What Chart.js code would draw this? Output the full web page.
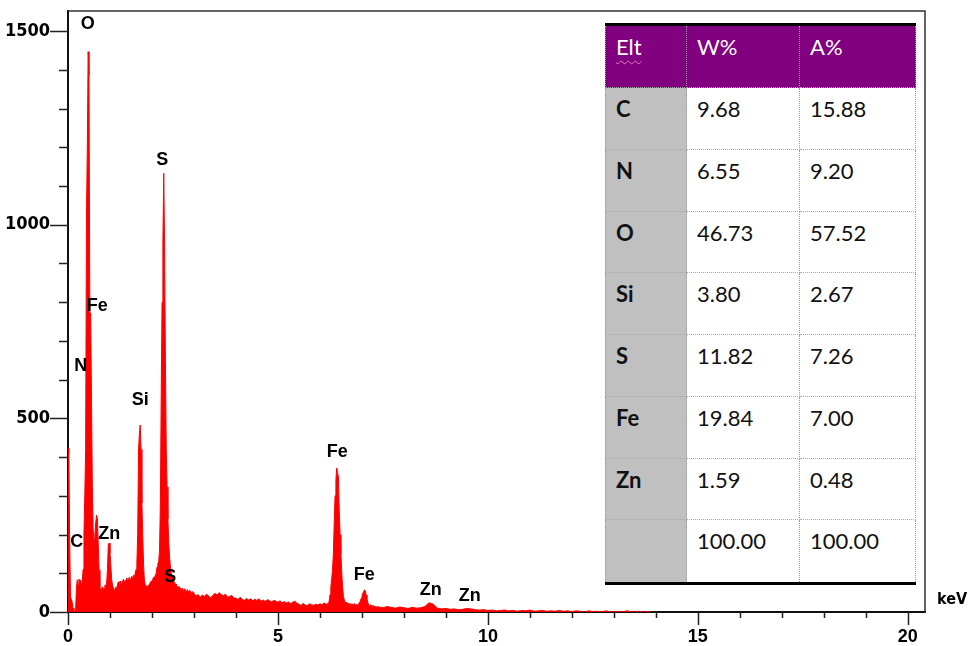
<!DOCTYPE html>
<html>
<head>
<meta charset="utf-8">
<script src="https://cdn.jsdelivr.net/npm/chart.js@4.4.1/dist/chart.umd.min.js"></script>
<style>
  html, body { margin: 0; padding: 0; background: #fff; overflow: hidden; }
  #wrap { position: relative; width: 971px; height: 646px; }
  #eds { position: absolute; left: 0; top: 0; }
  #tbl {
    position: absolute; left: 605px; top: 23px; width: 311px;
    border-top: 3px solid #000; border-bottom: 3px solid #000;
    display: grid;
    grid-template-columns: 82px 113px 116px;
    grid-template-rows: 62px repeat(8, 61.75px);
    font-family: Lato, "Open Sans", sans-serif; font-size: 22px; color: #111;
    background: #fff;
  }
  #tbl div {
    box-sizing: border-box; padding: 7px 0 0 10px;
    border-right: 1px dotted #999; border-bottom: 1px dotted #aaa;
    line-height: normal;
  }
  #tbl div.c0 { border-left: 1px dotted #999; }
  #tbl div.head { background: #800080; color: #fff; }
  #tbl div.elt { background: #c0c0c0; font-weight: bold; }
  #tbl div.last { border-bottom: none; }
  .squiggle { text-decoration: underline wavy #e87ab8; text-decoration-thickness: 1px; text-underline-offset: 5px; }
</style>
</head>
<body>
<div id="wrap">
  <canvas id="eds" width="971" height="646"></canvas>
  <div id="tbl"></div>
</div>
<script>
// --- spectrum (counts) ---
// 0.00 - 2.98 keV, every 0.02 keV
const lowStart = 0, lowStep = 0.02;
const countsLow = [
  423, 410, 180, 39, 33,     25, 10, 0, 0, 0,
  60, 83, 70, 85, 80,        83, 72, 78, 110, 204,
  300, 418, 1022, 1200, 1447, 1386, 772, 772, 547, 323,
  212, 186, 195, 230, 250,   240, 178, 108, 65, 55,
  60, 65, 58, 62, 70,        65, 75, 110, 173, 178,
  152, 120, 83, 70, 62,      55, 60, 65, 58, 72,
  78, 70, 80, 75, 68,        78, 85, 74, 82, 76,
  88, 80, 84, 90, 83,        86, 92, 85, 95, 88,
  100, 110, 126, 200, 418,   460, 483, 420, 281, 200,
  120, 80, 70, 65, 68,       65, 70, 72, 75, 80,
  78, 85, 90, 88, 95,        100, 116, 125, 129, 160,
  281, 560, 800, 955, 1133,  955, 650, 420, 323, 240,
  178, 140, 116, 100, 90,    82, 75, 78, 68, 72,
  62, 66, 58, 64, 60,        55, 62, 57, 52, 60,
  55, 50, 58, 54, 49,        56, 52, 47, 53, 50
];
// 3.00 - 6.15 keV, every 0.05 keV
const midStart = 3.0, midStep = 0.05;
const countsMid = [
  48, 42, 45, 38, 44, 40, 46, 41, 37, 43,
  48, 44, 50, 45, 42, 46, 38, 40, 43, 36,
  36, 32, 38, 33, 30, 35, 31, 34, 29, 33,
  30, 34, 28, 31, 27, 32, 29, 26, 30, 28,
  25, 29, 24, 27, 23, 26, 22, 25, 28, 23,
  20, 17, 22, 18, 16, 21, 19, 17, 20, 18,
  21, 19, 23, 20
];
// 6.20 - 7.38 keV (Fe K lines), every 0.02 keV
const feStart = 6.2, feStep = 0.02;
const countsFe = [
  22, 28, 45, 65, 85,     110, 150, 230, 300, 340,
  372, 360, 349, 260, 200, 152, 100, 65, 40, 31,
  26, 22, 25, 20, 23,     19, 22, 18, 21, 20,
  17, 22, 19, 18, 20,     17, 21, 24, 28, 35,
  39, 48, 52, 57, 55,     44, 35, 25, 18, 16,
  19, 15, 17, 14, 16,     13, 15, 12, 14, 13
];
// 7.4 - 13.9 keV, every 0.1 keV
const highStart = 7.4, highStep = 0.1;
const countsHigh = [
  13, 11, 14, 12, 10, 13,
  11, 9, 12, 10, 11, 14, 24, 20, 10, 8,
  9, 7, 8, 6, 7, 9, 8, 6, 5, 6,
  4, 5, 3, 4, 5, 3, 4, 2, 4, 3,
  5, 2, 3, 4, 2, 3, 2, 4, 2, 3,
  1, 3, 2, 0, 3, 1, 2, 0, 3, 1,
  0, 2, 0, 3, 1, 0, 2, 0, 1, 0
];

// axes
const xTicks = [0,1,2,3,4,5,6,7,8,9,10,11,12,13,14,15,16,17,18,19,20];
const yTicks = [0,100,200,300,400,500,600,700,800,900,1000,1100,1200,1300,1400,1500];
const xMax = 20.41, yMax = 1552;

// peak labels: element, keV, counts where the label sits
const peakNames   = ['O', 'S', 'Fe', 'N', 'Si', 'C', 'Zn', 'S', 'Fe', 'Fe', 'Zn', 'Zn'];
const peakEnergy  = [0.47, 2.246, 0.698, 0.304, 1.721, 0.21, 0.983, 2.436, 6.41, 7.055, 8.638, 9.567];
const peakLabelAt = [1519, 1168, 790, 635, 547, 181, 201, 90, 413, 96, 58, 42];

// quantification table
const elements  = ['C', 'N', 'O', 'Si', 'S', 'Fe', 'Zn', ''];
const weightPct = ['9.68', '6.55', '46.73', '3.80', '11.82', '19.84', '1.59', '100.00'];
const atomicPct = ['15.88', '9.20', '57.52', '2.67', '7.26', '7.00', '0.48', '100.00'];

function segment(start, step, counts) {
  return counts.map((v, i) => ({ x: +(start + i * step).toFixed(3), y: v }));
}
const spectrum = [].concat(
  segment(lowStart, lowStep, countsLow),
  segment(midStart, midStep, countsMid),
  segment(feStart, feStep, countsFe),
  segment(highStart, highStep, countsHigh)
);

// table
const tbl = document.getElementById('tbl');
function cell(text, cls) {
  const d = document.createElement('div');
  d.className = cls;
  if (text === 'Elt') d.innerHTML = '<span class="squiggle">Elt</span>';
  else d.textContent = text;
  tbl.appendChild(d);
}
cell('Elt', 'head c0'); cell('W%', 'head'); cell('A%', 'head');
elements.forEach((el, i) => {
  const last = i === elements.length - 1 ? ' last' : '';
  cell(el, 'elt c0' + last);
  cell(weightPct[i], 'num' + last);
  cell(atomicPct[i], 'num' + last);
});

const labelFont = 'bold 18px "Liberation Sans", Arial, sans-serif';
const narrowFont = '"Liberation Sans Narrow", "DejaVu Sans Condensed", Arial, sans-serif';

const edsDecor = {
  id: 'edsDecor',
  afterDraw(chart) {
    const { ctx, chartArea: a, scales: { x, y } } = chart;
    ctx.save();
    // box round the plot
    ctx.strokeStyle = '#333';
    ctx.lineWidth = 1.5;
    ctx.beginPath();
    ctx.moveTo(a.left, a.top);
    ctx.lineTo(a.right, a.top);
    ctx.lineTo(a.right, a.bottom);
    ctx.stroke();

    // tick marks, long at labelled values
    ctx.strokeStyle = '#222';
    ctx.beginPath();
    yTicks.forEach(v => {
      const p = Math.round(y.getPixelForValue(v)) + 0.5;
      const len = v % 500 === 0 ? 18 : 9;
      ctx.moveTo(a.left - len, p);
      ctx.lineTo(a.left, p);
    });
    xTicks.forEach(v => {
      const p = Math.round(x.getPixelForValue(v)) + 0.5;
      const len = v % 5 === 0 ? 13 : 6;
      ctx.moveTo(p, a.bottom);
      ctx.lineTo(p, a.bottom + len);
    });
    ctx.stroke();

    // unit
    ctx.fillStyle = '#000';
    ctx.font = 'bold 16px ' + narrowFont;
    ctx.textAlign = 'left';
    ctx.textBaseline = 'middle';
    ctx.fillText('keV', a.right + 12, a.bottom - 12);

    // element labels
    ctx.font = labelFont;
    ctx.textAlign = 'center';
    peakNames.forEach((n, i) => {
      ctx.fillText(n, x.getPixelForValue(peakEnergy[i]), y.getPixelForValue(peakLabelAt[i]));
    });
    ctx.restore();
  }
};

new Chart(document.getElementById('eds'), {
  type: 'line',
  data: {
    datasets: [{
      data: spectrum,
      borderColor: '#ff0000',
      backgroundColor: '#ff0000',
      borderWidth: 1,
      pointRadius: 0,
      fill: 'origin',
      tension: 0
    }]
  },
  options: {
    responsive: false,
    animation: false,
    layout: { padding: { top: 11, right: 46, left: 0, bottom: 0 } },
    plugins: { legend: { display: false }, tooltip: { enabled: false } },
    scales: {
      x: {
        type: 'linear', min: 0, max: xMax, z: 1,
        afterBuildTicks: s => { s.ticks = xTicks.map(v => ({ value: v })); },
        afterFit: s => { s.height = 34; s.paddingLeft = 0; s.paddingRight = 0; },
        grid: { display: false, drawTicks: false },
        border: { display: true, color: '#111', width: 2 },
        ticks: {
          autoSkip: false, maxRotation: 0, padding: 14, color: '#000',
          font: { family: '"Liberation Sans", Arial, sans-serif', size: 18, weight: 'bold' },
          callback: v => (v % 5 === 0 ? String(v) : '')
        }
      },
      y: {
        type: 'linear', min: 0, max: yMax, z: 1,
        afterBuildTicks: s => { s.ticks = yTicks.map(v => ({ value: v })); },
        afterFit: s => { s.width = 68; s.paddingTop = 0; s.paddingBottom = 0; },
        grid: { display: false, drawTicks: false },
        border: { display: true, color: '#111', width: 2 },
        ticks: {
          autoSkip: false, padding: 18, color: '#000',
          font: { family: narrowFont, size: 18, weight: 'bold' },
          callback: v => (v % 500 === 0 ? String(v) : '')
        }
      }
    }
  },
  plugins: [edsDecor]
});
</script>
</body>
</html>
